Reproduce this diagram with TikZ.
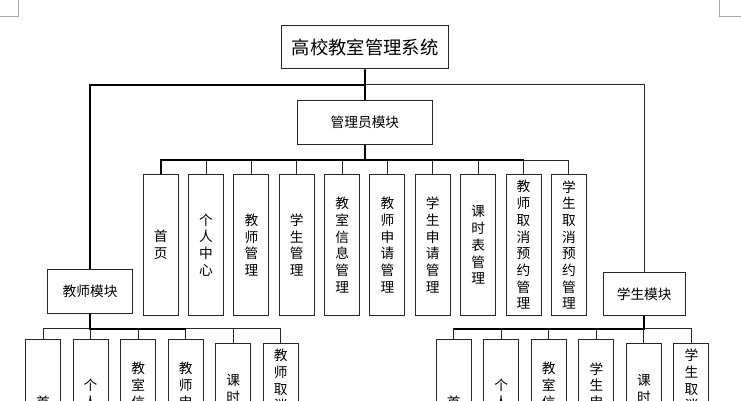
\documentclass[tikz,border=0pt]{standalone}
\usepackage{fontspec}
\newfontfamily\cjk{Noto Sans CJK SC}
\newcommand{\ph}[1]{\phantom{#1}}
\begin{document}
\begin{tikzpicture}[x=1pt,y=-1pt,
  box/.style={draw=black!85,line width=1pt,inner sep=0pt,anchor=north west,
    font=\cjk\fontsize{13.7}{16.7}\selectfont,align=center},
  vbox/.style={box,minimum width=35pt,minimum height=141pt},
  ln/.style={draw=black!85,line width=1pt},
  thk/.style={draw=black,line width=1.8pt}]
\useasboundingbox (0,0) rectangle (741,400);
\clip (0,0) rectangle (741,400);
\fill[white] (0,0) rectangle (741,400);
% page corner marks
\draw[black!35,line width=0.8pt] (18,0) -- (18,16.7) -- (0,16.7);
\draw[black!35,line width=0.8pt] (719.7,0) -- (719.7,16.7) -- (741,16.7);
% main boxes
\node[box,minimum width=166.8pt,minimum height=43.6pt,
  font=\cjk\fontsize{18.3}{20}\selectfont] (title) at (281.2,24.7) {高校教室管理系统};
\node[box,minimum width=134.2pt,minimum height=44pt] (admin) at (297.3,100) {管理员模块};
\node[box,minimum width=84.6pt,minimum height=43.4pt] (tm) at (47.3,269.3) {教师模块};
\node[box,minimum width=82.2pt,minimum height=43.3pt] (sm) at (602.6,272) {学生模块};
% admin children
\foreach \i/\t in {1/{首\\页},2/{个\\人\\中\\心},3/{教\\师\\管\\理},4/{学\\生\\管\\理},
  5/{教\\室\\信\\息\\管\\理},6/{教\\师\\申\\请\\管\\理},7/{学\\生\\申\\请\\管\\理},
  8/{课\\时\\表\\管\\理},9/{教\\师\\取\\消\\预\\约\\管\\理},10/{学\\生\\取\\消\\预\\约\\管\\理}}{
  \pgfmathsetmacro\xx{142.7+45.35*(\i-1)}
  \node[vbox] (a\i) at (\xx,174) {\t};
}
% teacher children (cut off by the lower edge, as in the reference)
\foreach \i/\t in {1/{首\\\ph{页}},2/{个\\人\\\ph{中}\\\ph{心}},
  3/{教\\室\\信\\\ph{息}\\\ph{管}\\\ph{理}},
  4/{教\\师\\申\\\ph{请}\\\ph{管}\\\ph{理}},5/{课\\时\\\ph{表}\\\ph{管}\\\ph{理}},
  6/{教\\师\\取\\消\\\ph{预}\\\ph{约}\\\ph{管}\\\ph{理}}}{
  \pgfmathsetmacro\xx{25+47.55*(\i-1)}
  \pgfmathsetmacro\yy{\i<5 ? 339.3 : 342.7}
  \node[vbox] (t\i) at (\xx,\yy) {\t};
}
% student children
\foreach \i/\t in {1/{首\\\ph{页}},2/{个\\人\\\ph{中}\\\ph{心}},
  3/{教\\室\\信\\\ph{息}\\\ph{管}\\\ph{理}},
  4/{学\\生\\申\\\ph{请}\\\ph{管}\\\ph{理}},5/{课\\时\\\ph{表}\\\ph{管}\\\ph{理}},
  6/{学\\生\\取\\消\\\ph{预}\\\ph{约}\\\ph{管}\\\ph{理}}}{
  \pgfmathsetmacro\xx{435.7+47.55*(\i-1)}
  \pgfmathsetmacro\yy{\i<5 ? 339.3 : 342.7}
  \node[vbox] (s\i) at (\xx,\yy) {\t};
}
% junctions
\coordinate (jt) at (title.south |- 0,84.7);
\coordinate (ja) at (admin.south |- 0,160);
\coordinate (jtm) at (tm.south |- 0,328.7);
\coordinate (jsm) at (sm.south |- 0,328.7);
% connectors
\draw[ln] (jt) -| (sm.north);
\draw[thk] (jt) -| (tm.north);
\draw[thk] (title.south) -- (admin.north);
\foreach \i in {2,...,10}{\draw[ln] (ja) -| (a\i.north);}
\draw[thk] (admin.south) -- (ja);
\draw[thk] (a1.north) |- (ja) -- (ja -| a9.north);
\foreach \i in {1,...,6}{\draw[ln] (jtm) -| (t\i.north);}
\draw[thk] (tm.south) -- (jtm) -- (jtm -| t4.north);
\foreach \i in {1,...,6}{\draw[ln] (jsm) -| (s\i.north);}
\draw[thk] (sm.south) -- (jsm) -- (jsm -| s1.north);
\end{tikzpicture}
\end{document}
